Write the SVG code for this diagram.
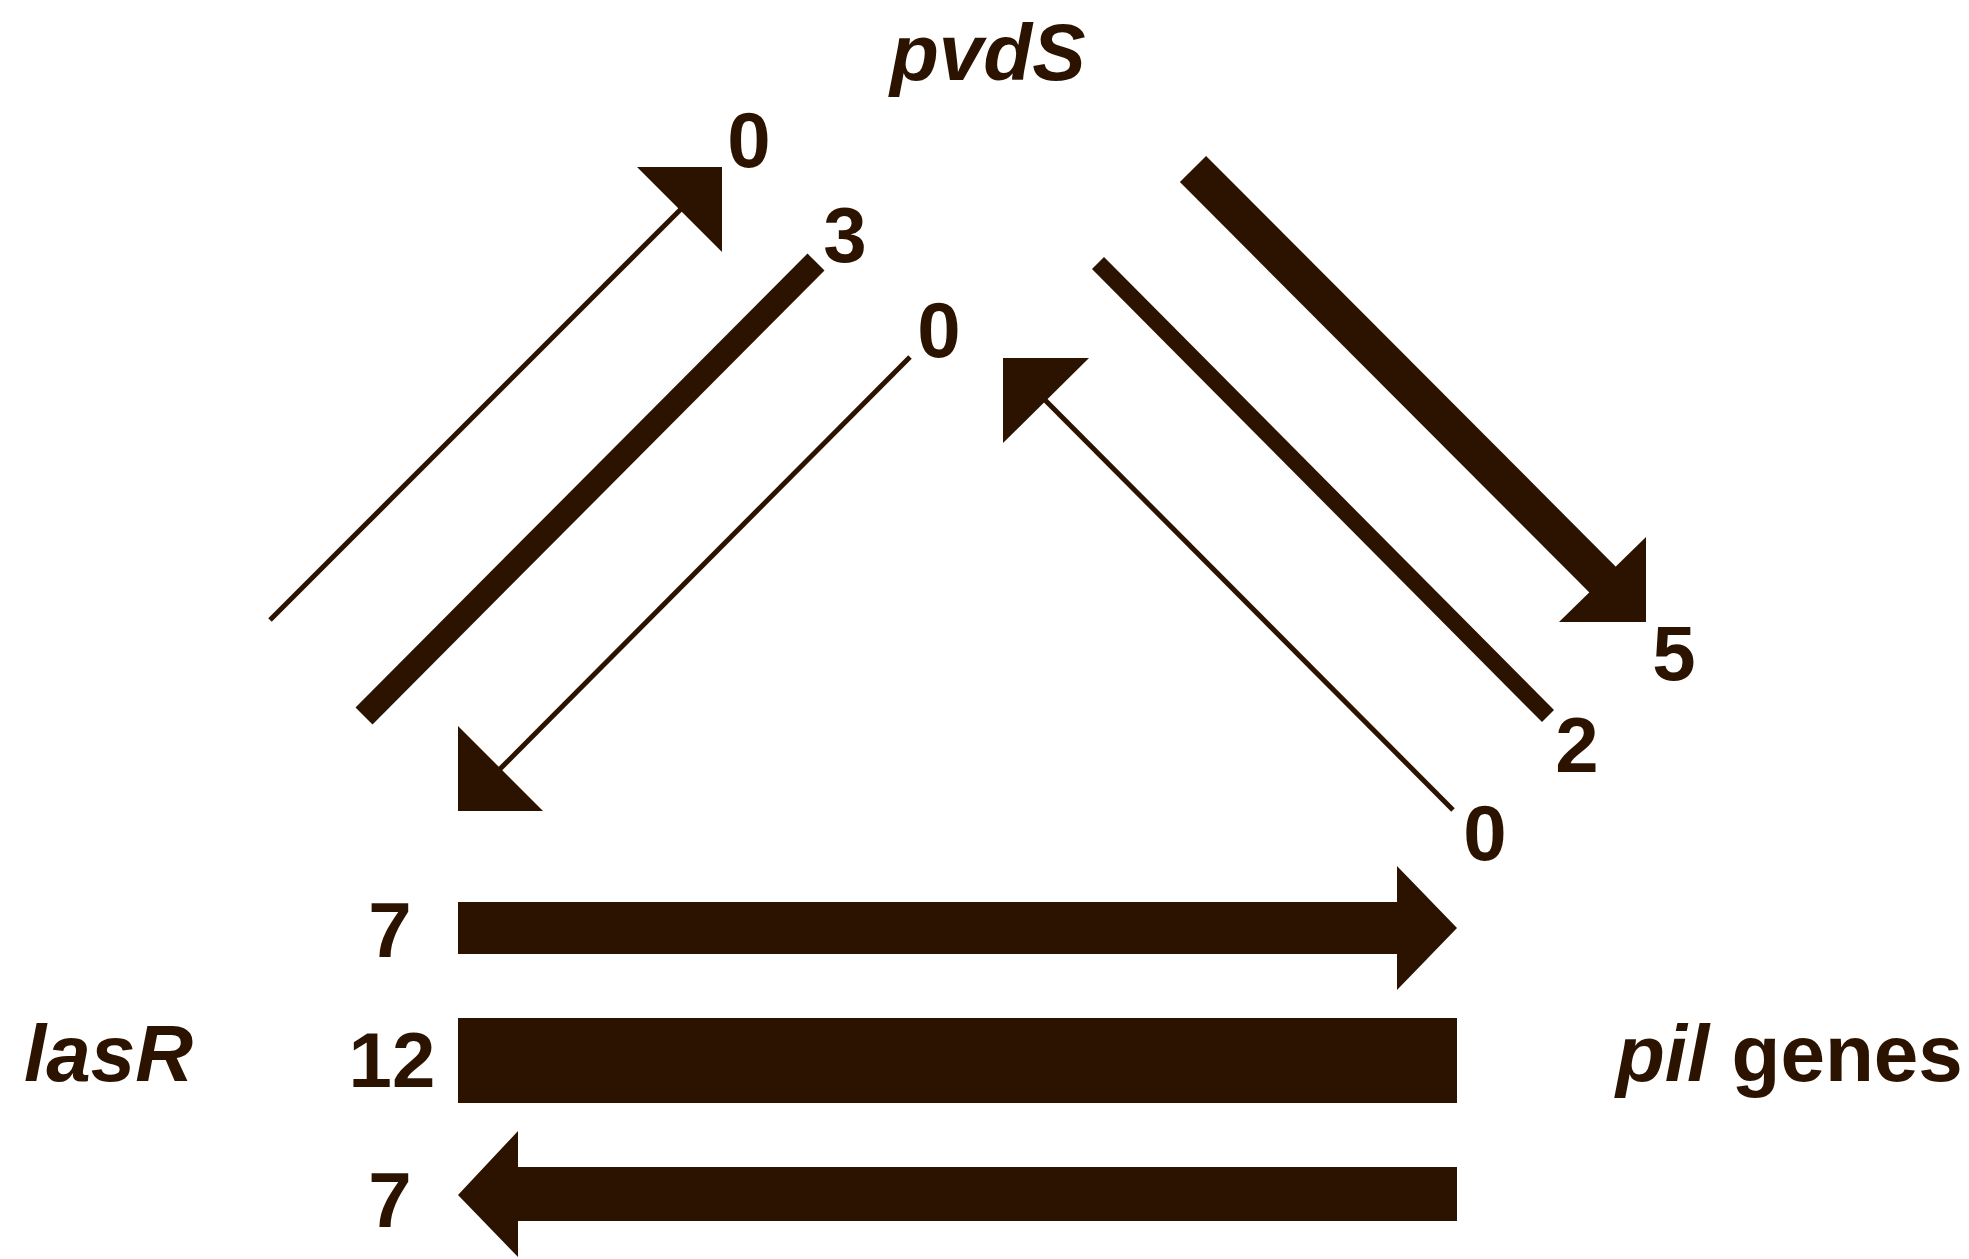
<svg xmlns="http://www.w3.org/2000/svg" width="1969" height="1259" viewBox="0 0 1969 1259">
<style>
.ln{stroke:#2b1300;fill:none;stroke-linecap:butt}
.sh{fill:#2b1300}
.num{font-family:"Liberation Sans",Arial,sans-serif;font-weight:bold;font-size:78px;fill:#2b1300;text-anchor:middle}
.name{font-family:"Liberation Sans",Arial,sans-serif;font-weight:bold;font-size:80px;fill:#2b1300}
.it{font-style:italic}
</style>
<rect width="1969" height="1259" fill="#ffffff"/>
<g id="node-pvdS">
<text class="name it" x="890" y="80">pvdS</text>
</g>
<g id="node-lasR">
<text class="name it" x="24" y="1081">lasR</text>
</g>
<g id="node-pil">
<text class="name" x="1616" y="1081"><tspan class="it">pil</tspan> genes</text>
</g>
<g id="connectors">
<line class="ln" x1="270" y1="620" x2="681" y2="209" stroke-width="5"/>
<polygon class="sh" points="722,167 637,167 722,252"/>
<line class="ln" x1="364" y1="716" x2="816" y2="262" stroke-width="24"/>
<line class="ln" x1="910" y1="357" x2="500" y2="769" stroke-width="5"/>
<polygon class="sh" points="458,811 458,726 543,811"/>
<line class="ln" x1="1193" y1="169" x2="1603" y2="580" stroke-width="37"/>
<polygon class="sh" points="1646,622 1646,537 1559,622"/>
<line class="ln" x1="1098" y1="263" x2="1548" y2="716" stroke-width="17"/>
<line class="ln" x1="1453" y1="810" x2="1045" y2="400" stroke-width="5"/>
<polygon class="sh" points="1003,358 1089,358 1003,443"/>
<polygon class="sh" points="458,902 1397,902 1397,866 1457,928 1397,990 1397,954 458,954"/>
<rect class="sh" x="458" y="1018" width="999" height="85"/>
<polygon class="sh" points="1457,1167 518,1167 518,1131 458,1195 518,1257 518,1221 1457,1221"/>
</g>
<g id="labels">
<text class="num" x="749" y="167">0</text>
<text class="num" x="845" y="262">3</text>
<text class="num" x="939" y="357">0</text>
<text class="num" x="1674" y="680">5</text>
<text class="num" x="1577" y="772">2</text>
<text class="num" x="1485" y="860">0</text>
<text class="num" x="390" y="957">7</text>
<text class="num" x="392" y="1087">12</text>
<text class="num" x="390" y="1227">7</text>
</g>
</svg>
